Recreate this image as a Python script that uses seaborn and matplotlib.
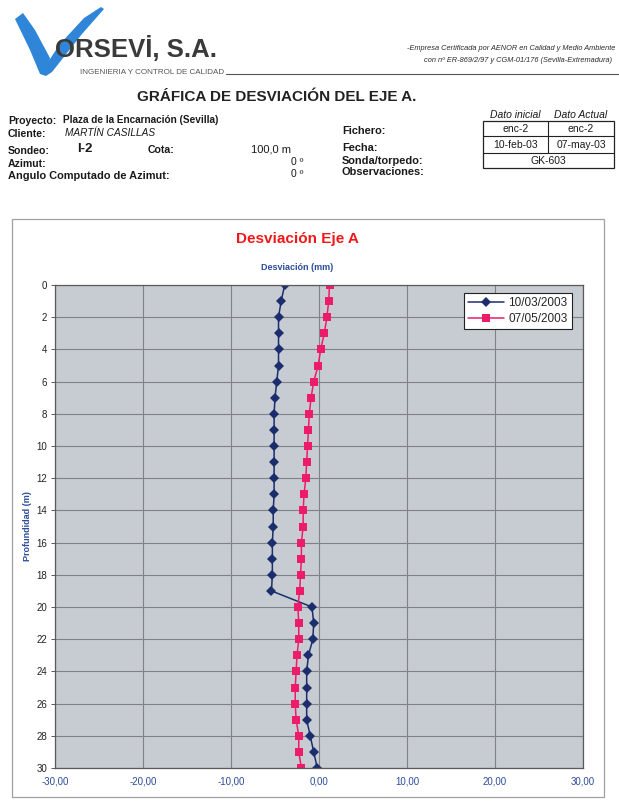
import matplotlib
matplotlib.use("Agg")
import matplotlib.pyplot as plt
import pandas as pd
import seaborn as sns
from matplotlib.patches import Polygon, Rectangle

# ---- data ----
profundidad = list(range(0, 31))
fechas = ["10/03/2003", "07/05/2003"]
desv_inicial = [-3.9, -4.3, -4.6, -4.6, -4.6, -4.6, -4.8, -5.0, -5.1, -5.1,
                -5.1, -5.1, -5.1, -5.1, -5.2, -5.2, -5.3, -5.3, -5.3, -5.4,
                -0.8, -0.6, -0.7, -1.2, -1.4, -1.4, -1.4, -1.4, -1.0, -0.6,
                -0.2]
desv_actual = [1.2, 1.1, 0.9, 0.6, 0.2, -0.1, -0.6, -0.9, -1.1, -1.2,
               -1.3, -1.4, -1.5, -1.7, -1.8, -1.8, -2.0, -2.0, -2.1, -2.2,
               -2.4, -2.3, -2.3, -2.5, -2.6, -2.7, -2.7, -2.6, -2.3, -2.3,
               -2.0]
x_ticks = [-30, -20, -10, 0, 10, 20, 30]
x_tick_labels = ["-30,00", "-20,00", "-10,00", "0,00", "10,00", "20,00", "30,00"]
y_ticks = list(range(0, 31, 2))

df = pd.DataFrame({
    "Profundidad": profundidad * 2,
    "Desviacion": desv_inicial + desv_actual,
    "Fecha": [fechas[0]] * len(profundidad) + [fechas[1]] * len(profundidad),
})

sns.set_style("white")
plt.rcParams["font.family"] = ["Liberation Sans", "DejaVu Sans"]

W, H = 619, 806
fig = plt.figure(figsize=(W / 100, H / 100), dpi=100)
fig.patch.set_facecolor("white")

# page overlay in pixel coordinates
pg = fig.add_axes([0, 0, 1, 1], zorder=0)
pg.set_xlim(0, W)
pg.set_ylim(H, 0)
pg.axis("off")

DARK = "#2b2b2b"
NAVY = "#1c2d6e"
PINK = "#ec1c6a"
BLUEL = "#2b4c9b"
INK = "#1a1a1a"

# logo
logo_blue = "#2f86d8"
pg.add_patch(Polygon([(15, 19), (23, 13), (35, 30), (50, 58), (47, 74), (40, 74), (30, 50)],
                     closed=True, color=logo_blue, lw=0, zorder=1))
pg.add_patch(Polygon([(40, 74), (60, 44), (84, 18), (101, 7), (104, 9), (82, 34), (52, 72), (46, 76)],
                     closed=True, color=logo_blue, lw=0, zorder=1))
pg.text(55, 49, "ORSEVİ, S.A.", fontsize=18.5, fontweight="bold", color="#3a3a3a",
        va="center", ha="left", zorder=2)
pg.text(80, 72.5, "INGENIERIA Y CONTROL DE CALIDAD", fontsize=5.8, color="#555555",
        va="center", ha="left", zorder=2)
pg.plot([226, 619], [74, 74], color="#555555", lw=0.8, zorder=2)
pg.text(615, 49, "-Empresa Certificada por AENOR en Calidad y Medio Ambiente",
        fontsize=5.3, style="italic", color=DARK, ha="right", va="center")
pg.text(612, 61, "con nº ER-869/2/97 y CGM-01/176 (Sevilla-Extremadura)",
        fontsize=5.3, style="italic", color=DARK, ha="right", va="center")

pg.text(277, 97, "GRÁFICA DE DESVIACIÓN DEL EJE A.", fontsize=11,
        fontweight="bold", color="#222222", ha="center", va="center")

# project block
lab = dict(fontsize=7.6, fontweight="bold", color=INK, va="center", ha="left")
pg.text(8, 121, "Proyecto:", **lab)
pg.text(63, 120, "Plaza de la Encarnación (Sevilla)", fontsize=7.2, fontweight="bold",
        color=INK, va="center", ha="left")
pg.text(8, 134, "Cliente:", **lab)
pg.text(65, 133, "MARTÍN CASILLAS", fontsize=7.3, style="italic", color=INK,
        va="center", ha="left")
pg.text(8, 151, "Sondeo:", **lab)
pg.text(77, 149, "I-2", fontsize=9.5, fontweight="bold", color=INK, va="center", ha="left")
pg.text(148, 150, "Cota:", **lab)
pg.text(291, 150, "100,0 m", fontsize=8, color=INK, va="center", ha="right")
pg.text(8, 164, "Azimut:", **lab)
pg.text(303, 162, "0 º", fontsize=7.5, color=INK, va="center", ha="right")
pg.text(8, 176, "Angulo Computado de Azimut:", fontsize=7.9, fontweight="bold",
        color=INK, va="center", ha="left")
pg.text(303, 174, "0 º", fontsize=7.5, color=INK, va="center", ha="right")

bold_info = dict(fontsize=7.9, fontweight="bold", color=INK, va="center", ha="left")
pg.text(342, 131, "Fichero:", **bold_info)
pg.text(342, 148, "Fecha:", **bold_info)
pg.text(342, 161, "Sonda/torpedo:", **bold_info)
pg.text(342, 172, "Observaciones:", **bold_info)

# dates table
tx0, tx1, tmid = 483, 614, 548
ty = [121, 136, 153, 168]
pg.text((tx0 + tmid) / 2, 114.5, "Dato inicial", fontsize=7.5, style="italic",
        color=INK, ha="center", va="center")
pg.text((tmid + tx1) / 2, 114.5, "Dato Actual", fontsize=7.5, style="italic",
        color=INK, ha="center", va="center")
pg.add_patch(Rectangle((tx0, ty[0]), tx1 - tx0, ty[3] - ty[0], fill=False,
                       ec="#222222", lw=0.9))
for yy in ty[1:3]:
    pg.plot([tx0, tx1], [yy, yy], color="#222222", lw=0.8)
pg.plot([tmid, tmid], [ty[0], ty[2]], color="#222222", lw=0.8)
cell = dict(fontsize=7.5, color=INK, ha="center", va="center")
pg.text((tx0 + tmid) / 2, 128.5, "enc-2", **cell)
pg.text((tmid + tx1) / 2, 128.5, "enc-2", **cell)
pg.text((tx0 + tmid) / 2, 144.5, "10-feb-03", **cell)
pg.text((tmid + tx1) / 2, 144.5, "07-may-03", **cell)
pg.text((tx0 + tx1) / 2, 160.5, "GK-603", **cell)

# chart frame
pg.add_patch(Rectangle((12, 219), 592, 578, fill=False, ec="#a0a0a0", lw=0.9))
pg.text(297, 239, "Desviación Eje A", fontsize=11, fontweight="bold",
        color="#f01818", ha="center", va="center")
pg.text(297, 267, "Desviación (mm)", fontsize=6.5, fontweight="bold",
        color=BLUEL, ha="center", va="center")
pg.text(28, 526, "Profundidad (m)", fontsize=6.5, fontweight="bold",
        color=BLUEL, ha="center", va="center", rotation=90)

# ---- deviation chart ----
L, R, T, B = 55, 583, 285, 768
ax = fig.add_axes([L / W, 1 - B / H, (R - L) / W, (B - T) / H], zorder=2)
ax.set_facecolor("#c7ccd2")

sns.lineplot(data=df[df["Fecha"] == fechas[0]], x="Desviacion", y="Profundidad",
             orient="y", estimator=None, sort=False, ax=ax, color=NAVY, lw=1.1,
             marker="D", markersize=4.8, markeredgewidth=0, label=fechas[0])
sns.lineplot(data=df[df["Fecha"] == fechas[1]], x="Desviacion", y="Profundidad",
             orient="y", estimator=None, sort=False, ax=ax, color=PINK, lw=1.1,
             marker="s", markersize=5.5, markeredgewidth=0, label=fechas[1])

ax.set_xlim(-30, 30)
ax.set_ylim(30, 0)
ax.set_xticks(x_ticks)
ax.set_xticklabels(x_tick_labels)
ax.set_yticks(y_ticks)
ax.set_xlabel("")
ax.set_ylabel("")
ax.grid(True, color="#7f8388", lw=0.8)
ax.set_axisbelow(True)
for s in ax.spines.values():
    s.set_color("#5a5a5a")
    s.set_linewidth(0.9)
ax.tick_params(axis="y", length=3, width=0.7, color="#5a5a5a", labelsize=7,
               labelcolor="#222222", pad=2.5, left=True)
ax.tick_params(axis="x", length=0, labelsize=7, labelcolor=BLUEL, pad=6)

leg = ax.legend(loc="upper right", bbox_to_anchor=(0.979, 0.983), fontsize=8.5,
                frameon=True, fancybox=False, framealpha=1, edgecolor="#222222",
                handlelength=3.0, borderpad=0.35, labelspacing=0.3, handletextpad=0.4,
                borderaxespad=0)
leg.get_frame().set_linewidth(0.8)

fig.savefig("out.png", dpi=100, facecolor="white")
